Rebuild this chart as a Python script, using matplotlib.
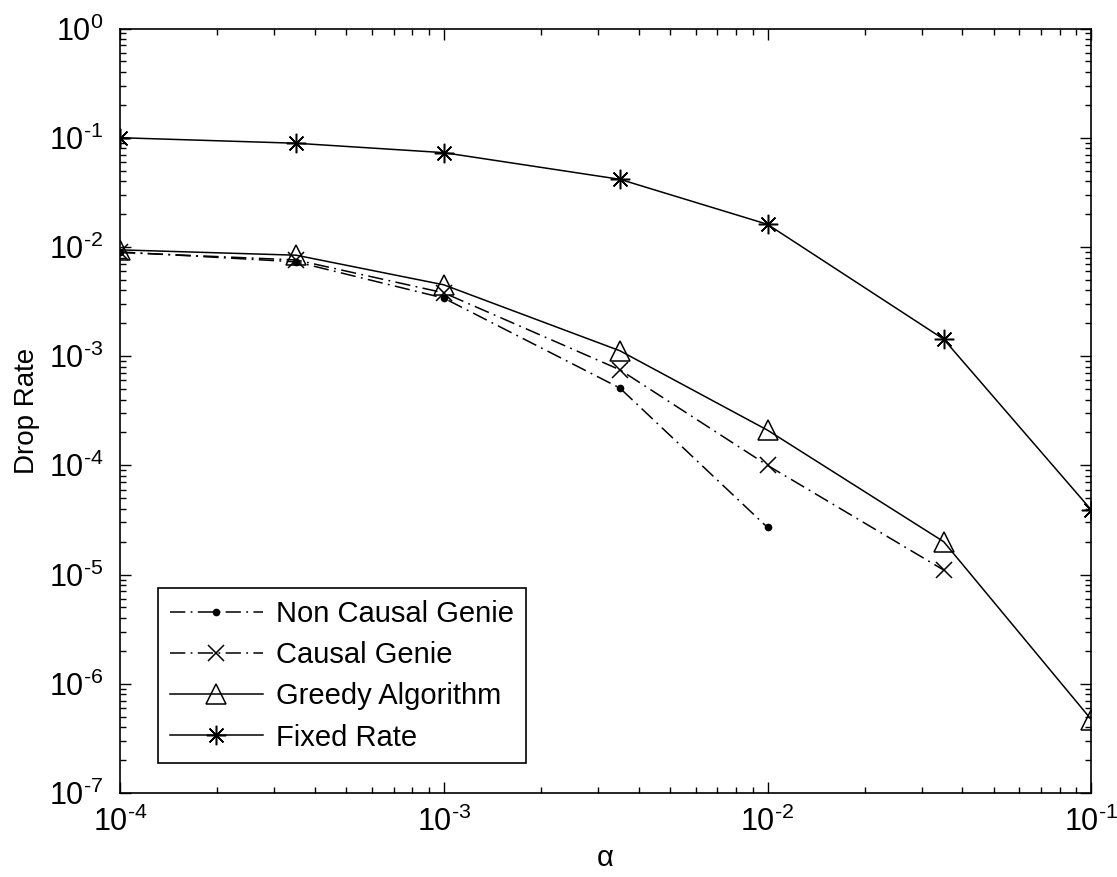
import matplotlib
matplotlib.use("Agg")
import numpy as np
import matplotlib.pyplot as plt
from matplotlib.ticker import LogLocator, NullFormatter, FuncFormatter

plt.rcParams['font.family'] = ['Liberation Sans', 'DejaVu Sans']
plt.rcParams['mathtext.fontset'] = 'custom'
plt.rcParams['mathtext.rm'] = 'Liberation Sans'
plt.rcParams['mathtext.it'] = 'Liberation Sans:italic'
plt.rcParams['mathtext.default'] = 'regular'

# alpha values
alpha = [1e-4, 3.5e-4, 1e-3, 3.5e-3, 1e-2, 3.5e-2, 1e-1]

non_causal = [0.0090, 0.0073, 0.0034, 5.1e-4, 2.7e-5]
causal = [0.0089, 0.0076, 0.0038, 7.5e-4, 1.0e-4, 1.1e-5]
greedy = [0.0094, 0.0084, 0.0045, 1.12e-3, 2.1e-4, 2.0e-5, 4.7e-7]
fixed_rate = [0.100, 0.089, 0.073, 0.0416, 0.0161, 1.43e-3, 3.9e-5]

fig = plt.figure(figsize=(11.17, 8.77), dpi=100)
ax = fig.add_axes([0.1074, 0.0958, 0.8696, 0.8717])

dashdot = (0, (10, 3.5, 1.2, 3.5))

ax.plot(alpha[:len(non_causal)], non_causal, color='k', lw=1.1, linestyle=dashdot,
        marker='o', ms=4.5, mfc='k', mec='k', label='Non Causal Genie')
ax.plot(alpha[:len(causal)], causal, color='k', lw=1.1, linestyle=dashdot,
        marker='x', ms=11, mew=1.1, label='Causal Genie')
ax.plot(alpha, greedy, color='k', lw=1.1, linestyle='-',
        marker='^', ms=15, mfc='none', mew=1.1, label='Greedy Algorithm')
ax.plot(alpha, fixed_rate, color='k', lw=1.1, linestyle='-',
        marker=(8, 2, 0), ms=14, mew=1.1, label='Fixed Rate')

ax.set_xscale('log')
ax.set_yscale('log')
ax.set_xlim(1e-4, 1e-1)
ax.set_ylim(1e-7, 1e0)


def pow10(v, pos):
    e = int(round(np.log10(v)))
    if e < 0:
        return r'$10^{\text{-}%d}$' % (-e)
    return r'$10^{%d}$' % e


ax.xaxis.set_major_locator(LogLocator(base=10, numticks=10))
ax.yaxis.set_major_locator(LogLocator(base=10, numticks=10))
ax.xaxis.set_major_formatter(FuncFormatter(pow10))
ax.yaxis.set_major_formatter(FuncFormatter(pow10))
ax.xaxis.set_minor_locator(LogLocator(base=10, subs=range(2, 10), numticks=20))
ax.yaxis.set_minor_locator(LogLocator(base=10, subs=range(2, 10), numticks=20))
ax.xaxis.set_minor_formatter(NullFormatter())
ax.yaxis.set_minor_formatter(NullFormatter())

ax.tick_params(which='both', direction='in', top=True, right=True, labelsize=22, width=1.0)
ax.tick_params(which='major', length=8)
ax.tick_params(which='minor', length=4)
ax.tick_params(axis='x', pad=10)
ax.tick_params(axis='y', pad=12)
for s in ax.spines.values():
    s.set_linewidth(1.2)

ax.set_xlabel('α', fontsize=21, labelpad=4)
ax.set_ylabel('Drop Rate', fontsize=20, labelpad=6)

leg = ax.legend(loc='lower left', bbox_to_anchor=(0.039, 0.039), borderaxespad=0,
                fontsize=21, handlelength=3.2, handletextpad=0.45, labelspacing=0.45,
                fancybox=False, framealpha=1, edgecolor='k', borderpad=0.4)
leg.get_frame().set_linewidth(1.2)

fig.savefig('out.png', dpi=100)
